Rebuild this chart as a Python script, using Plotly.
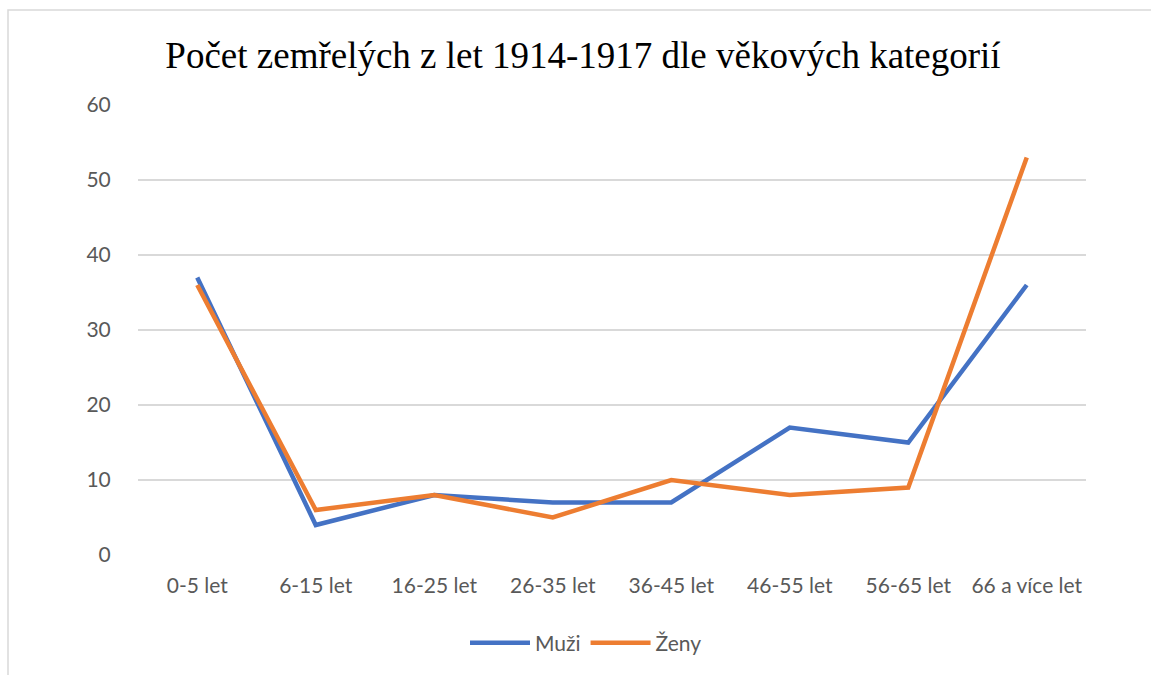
import plotly.graph_objects as go

categories = ["0-5 let", "6-15 let", "16-25 let", "26-35 let", "36-45 let", "46-55 let", "56-65 let", "66 a více let"]
muzi = [37, 4, 8, 7, 7, 17, 15, 36]
zeny = [36, 6, 8, 5, 10, 8, 9, 53]
y_ticks = [0, 10, 20, 30, 40, 50, 60]

W, H = 1151, 675
L, R, T, B = 138, 65, 105, 120
pw, ph = W - L - R, H - T - B

fig = go.Figure()
fig.add_trace(go.Scatter(x=categories, y=muzi, mode="lines", name="Muži",
                         line=dict(color="#4472C4", width=4.5)))
fig.add_trace(go.Scatter(x=categories, y=zeny, mode="lines", name="Ženy",
                         line=dict(color="#ED7D31", width=4.5)))

fig.update_layout(
    width=W, height=H,
    margin=dict(l=L, r=R, t=T, b=B),
    paper_bgcolor="white", plot_bgcolor="white",
    title=dict(text="Počet zemřelých z let 1914-1917 dle věkových kategorií",
               x=583 / W, xanchor="center", xref="container",
               y=1 - 55 / H, yanchor="middle", yref="container",
               font=dict(family="Liberation Serif", size=37, color="black")),
    font=dict(family="Lato", size=21, color="#595959"),
    xaxis=dict(type="category", range=[-0.5, 7.5], showgrid=False, zeroline=False,
               showline=False, ticks="outside", ticklen=12, tickcolor="rgba(0,0,0,0)",
               tickfont=dict(size=21, color="#595959")),
    yaxis=dict(range=[0, 60], tickvals=y_ticks, showgrid=True, gridcolor="#D9D9D9",
               gridwidth=1.5, zeroline=False, showline=False, ticks="outside", ticklen=22,
               tickcolor="rgba(0,0,0,0)", tickfont=dict(size=21, color="#595959")),
    legend=dict(orientation="h", x=(586 - L) / pw, xanchor="center",
                y=(555 - 643) / ph, yanchor="middle",
                font=dict(size=21, color="#595959"), itemwidth=60),
    showlegend=True,
)

fig.add_shape(type="rect", xref="paper", yref="paper",
              x0=(8 - L) / pw, x1=(W + 20 - L) / pw,
              y0=(555 - (H + 20)) / ph, y1=(555 - 10) / ph,
              line=dict(color="#D9D9D9", width=1.5), layer="below")

fig.write_html("out.html", config={"displayModeBar": False},
               post_script="document.body.style.margin='0';")
